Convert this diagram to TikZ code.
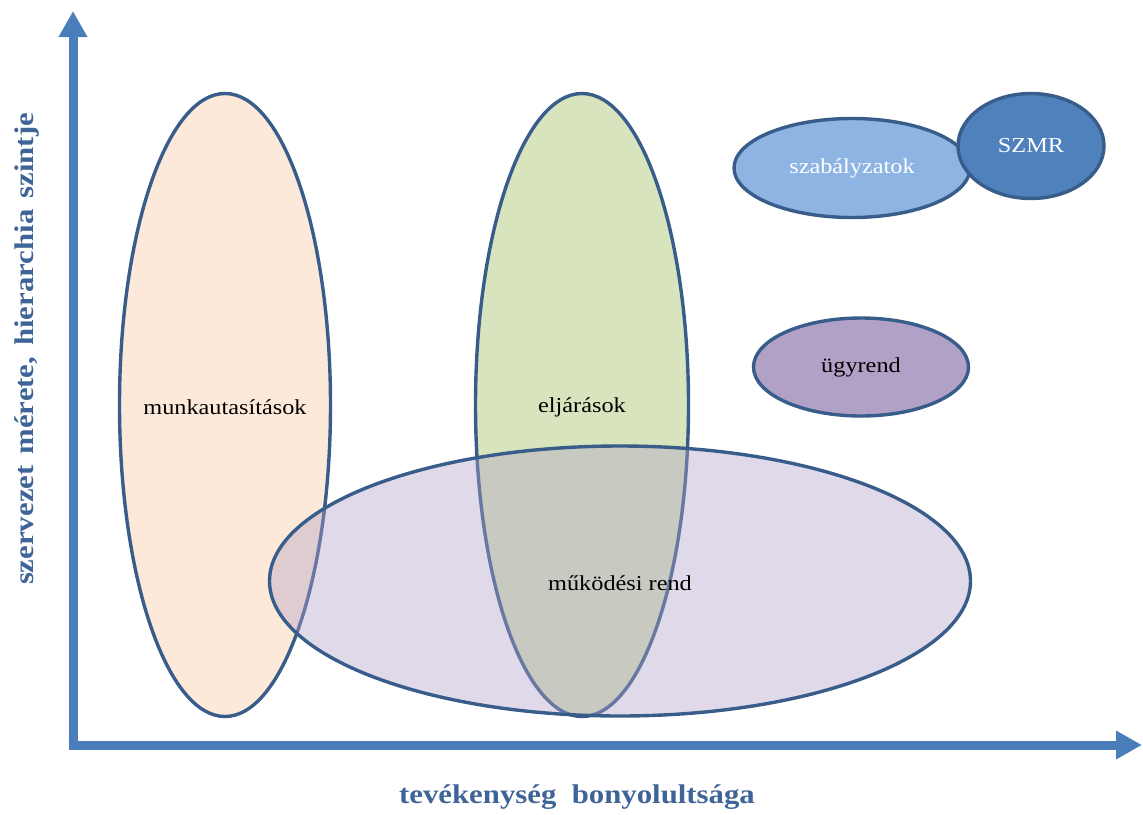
\documentclass[tikz,border=0pt]{standalone}
\usepackage{fontspec}
\setmainfont{Liberation Serif}[FakeStretch=1.14]
\usetikzlibrary{shapes.geometric,arrows.meta}
\definecolor{peach}{HTML}{FDE9D9}
\definecolor{lgreen}{HTML}{D7E4BD}
\definecolor{lav}{HTML}{B2A1C7}
\definecolor{lblue}{HTML}{8EB4E3}
\definecolor{mblue}{HTML}{4F81BD}
\definecolor{edge}{HTML}{385D8A}
\definecolor{axis}{HTML}{4A7EBB}
\definecolor{axtext}{HTML}{3F6497}
\tikzset{
  blob/.style={ellipse, draw=edge, line width=3.4pt, inner sep=0pt, font=\fontsize{21.3}{25}\selectfont},
  lbl/.style={font=\fontsize{21.3}{25}\selectfont},
  axisline/.style={draw=axis, line width=9pt, -{Triangle[width=27pt,length=26pt]}},
  axislabel/.style={text=axtext, font=\fontsize{27}{32}\selectfont\bfseries}
}
\begin{document}
\begin{tikzpicture}[x=1pt,y=-1pt]
\useasboundingbox (0,0) rectangle (1143,814);
% axes
\coordinate (o) at (73,749.5);
\coordinate (ytop) at (73,11);
\coordinate (ox) at (68.5,745);
\coordinate (xend) at (1142,745);
\draw[axisline] (o) -- (ytop);
\draw[axisline] (ox) -- (xend);
\node[axislabel, rotate=90] (ylab) at (27,349) {szervezet\hspace{11pt}mérete,\hspace{11pt}hierarchia\hspace{11pt}szintje};
\node[axislabel] (xlab) at (577,797) {tevékenység\ \ bonyolultsága};
% tall ellipses
\node[blob, fill=peach, minimum width=211pt, minimum height=623pt] (munka) at (225,405) {};
\node[blob, fill=lgreen, minimum width=213pt, minimum height=623pt] (elj) at (582,405) {};
% wide overlay ellipse
\node[blob, fill=lav, fill opacity=0.4, draw opacity=1, text opacity=1, minimum width=701pt, minimum height=270pt] (mukodes) at (620,581) {};
\node[lbl] (tmunka) at (225,407) {munkautasítások};
\node[lbl] (telj) at (582,407) {eljárások};
\node[lbl] (tmuk) at (620,583) {működési rend};
% right side
\node[blob, fill=lblue, text=white, minimum width=236pt, minimum height=99pt] (szab) at (852,168) {szabályzatok};
\node[blob, fill=mblue, text=white, minimum width=146pt, minimum height=105pt] (szmr) at (1031,146) {SZMR};
\node[blob, fill=lav, minimum width=215pt, minimum height=98pt] (ugy) at (861,367) {ügyrend};
\end{tikzpicture}
\end{document}
